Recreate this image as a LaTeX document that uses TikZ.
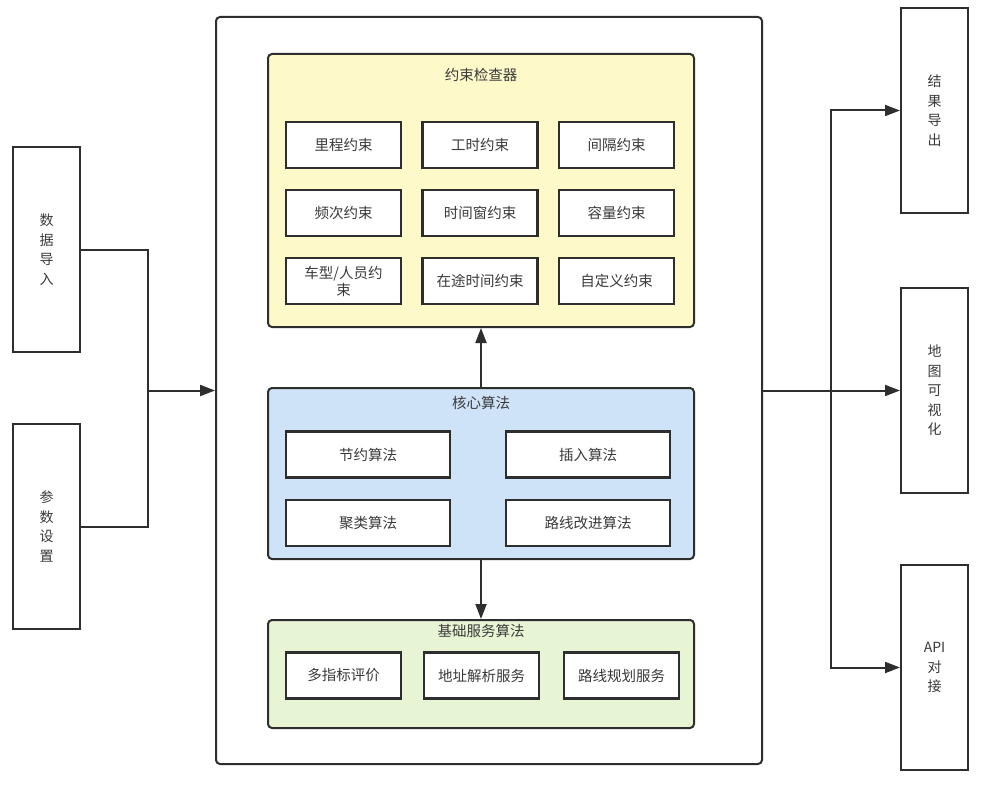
\documentclass[tikz,border=0pt]{standalone}
\usepackage{fontspec}
\setmainfont{Noto Sans CJK SC}
\usepackage{tikz}
\usetikzlibrary{arrows.meta,positioning,calc}
\definecolor{lnclr}{HTML}{2E2E2E}
\definecolor{txclr}{HTML}{3A3A3A}
\definecolor{yelfill}{HTML}{FDF9C9}
\definecolor{blufill}{HTML}{CFE3F8}
\definecolor{grnfill}{HTML}{E8F5D5}
\tikzset{
  blk/.style={draw=lnclr, line width=2.2pt, fill=white, align=center, inner sep=2pt,
              text=txclr, font=\fontsize{14.5}{17}\selectfont, minimum height=46pt},
  grp/.style={draw=lnclr, line width=2pt, rounded corners=4pt, minimum width=426pt},
  side/.style={draw=lnclr, line width=2pt, fill=white, align=center, text=txclr,
               font=\fontsize{14}{19.5}\selectfont, minimum width=67pt, minimum height=205pt},
  ttl/.style={text=txclr, font=\fontsize{14.5}{17}\selectfont, inner sep=1pt},
  sig/.style={-{Triangle[length=15pt,width=11pt]}, line width=2pt, draw=lnclr},
  wire/.style={line width=2pt, draw=lnclr},
}
\begin{document}
\begin{tikzpicture}[x=1pt,y=-1pt]
    \useasboundingbox[fill=white] (0,0) rectangle (993,789);
    % outer frame
    \node[draw=lnclr, line width=2pt, rounded corners=4pt, minimum width=546pt,
          minimum height=747pt] (main) at (489,390.5) {};
    % inputs
    \node[side] (imp) at (46.5,249.5) {数\\据\\导\\入};
    \node[side] (par) at (46.5,526.5) {参\\数\\设\\置};
    % outputs
    \node[side] (res) at (934.5,110.5) {结\\果\\导\\出};
    \node[side] (map) at (934.5,390.5) {地\\图\\可\\视\\化};
    \node[side] (api) at (934.5,667.5) {API\\对\\接};
    % constraint checker
    \node[grp, fill=yelfill, minimum height=273pt] (chk) at (481,190.5) {};
    \node[ttl] (chkt) at (481,75) {约束检查器};
    \node[blk, minimum width=115pt] (c1) at (343.5,145) {里程约束};
    \node[blk, minimum width=115pt, right=19.3pt of c1] (c2) {工时约束};
    \node[blk, minimum width=115pt, right=19.3pt of c2] (c3) {间隔约束};
    \node[blk, minimum width=115pt, below=19.8pt of c1] (c4) {频次约束};
    \node[blk, minimum width=115pt, right=19.3pt of c4] (c5) {时间窗约束};
    \node[blk, minimum width=115pt, right=19.3pt of c5] (c6) {容量约束};
    \node[blk, minimum width=115pt, below=19.8pt of c4] (c7) {车型/人员约\\束};
    \node[blk, minimum width=115pt, right=19.3pt of c7] (c8) {在途时间约束};
    \node[blk, minimum width=115pt, right=19.3pt of c8] (c9) {自定义约束};
    % core algorithms
    \node[grp, fill=blufill, minimum height=171pt] (core) at (481,473.5) {};
    \node[ttl] (coret) at (481,403) {核心算法};
    \node[blk, minimum width=164pt] (a1) at (368,454.5) {节约算法};
    \node[blk, minimum width=164pt, right=53.8pt of a1] (a2) {插入算法};
    \node[blk, minimum width=164pt, below=20.3pt of a1] (a3) {聚类算法};
    \node[blk, minimum width=164pt, right=53.8pt of a3] (a4) {路线改进算法};
    % base services
    \node[grp, fill=grnfill, minimum height=108pt] (base) at (481,674) {};
    \node[ttl] (baset) at (481,631) {基础服务算法};
    \node[blk, minimum width=115pt] (b1) at (343.5,675.5) {多指标评价};
    \node[blk, minimum width=115pt, right=20.8pt of b1] (b2) {地址解析服务};
    \node[blk, minimum width=115pt, right=22.8pt of b2] (b3) {路线规划服务};
    % connectors
    \draw[sig] (core.north) -- (chk.south);
    \draw[sig] (core.south) -- (base.north);
    \coordinate (join) at (148,390.5);
    \draw[wire] (imp.east) -| (join) |- (par.east);
    \draw[sig] (join) -- (main.west);
    \coordinate (bus) at (831,390.5);
    \draw[sig] (main.east) -- (map.west);
    \draw[sig] (bus) |- (res.west);
    \draw[sig] (bus) |- (api.west);
  \end{tikzpicture}
\end{document}
